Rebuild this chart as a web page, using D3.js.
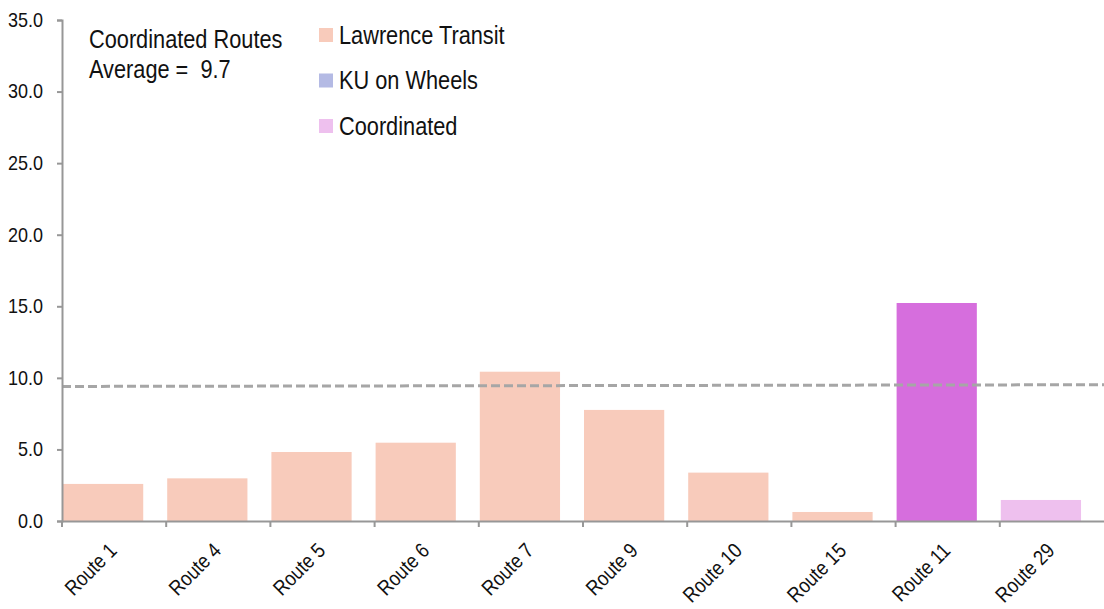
<!DOCTYPE html>
<html><head><meta charset="utf-8">
<script src="https://cdn.jsdelivr.net/npm/d3@7"></script>
<style>
html,body{margin:0;padding:0;background:#fff;}
svg{display:block;font-family:"Liberation Sans Narrow","Arial Narrow","Liberation Sans",Arial,sans-serif;}
</style></head>
<body><svg id="chart" width="1104" height="609"></svg>
<script>
const categories = ["Route 1","Route 4","Route 5","Route 6","Route 7","Route 9","Route 10","Route 15","Route 11","Route 29"];
const values = [2.59, 2.98, 4.82, 5.47, 10.43, 7.76, 3.38, 0.63, 15.23, 1.47];
const barGroups = ["Lawrence Transit","Lawrence Transit","Lawrence Transit","Lawrence Transit","Lawrence Transit","Lawrence Transit","Lawrence Transit","Lawrence Transit","Route 11","Coordinated"];
const legendLabels = ["Lawrence Transit","KU on Wheels","Coordinated"];
const legendColors = ["#F8CBBB","#B4BAE4","#EEC0EE"];
const yTicks = [0,5,10,15,20,25,30,35];
const avgLineValues = [9.4, 9.52];
const annotationLines = ["Coordinated Routes","Average =  9.7"];

const colorMap = {"Lawrence Transit":"#F8CBBB","KU on Wheels":"#B4BAE4","Coordinated":"#EEC0EE","Route 11":"#D66EDD"};

const svg = d3.select("#chart");
const W = 1104, H = 609;
const m = {left:62, right:0, top:20, bottom:88};
const x = d3.scaleBand().domain(categories).range([m.left, W - m.right]).paddingInner(0).paddingOuter(0);
const y = d3.scaleLinear().domain([0,35]).range([H - m.bottom, m.top]);
const axisColor = "#979797";
const textColor = "#111";
const SX = 0.87;

// bars (left-aligned in band)
svg.append("g").selectAll("rect").data(categories).join("rect")
  .attr("x", d => x(d) + 1)
  .attr("width", x.bandwidth() * 0.77)
  .attr("y", (d,i) => y(values[i]))
  .attr("height", (d,i) => y(0) - y(values[i]))
  .attr("fill", (d,i) => colorMap[barGroups[i]]);

// average dashed line
const lx = d3.scaleLinear().domain([0,1]).range([m.left, W - m.right]);
svg.append("path")
  .attr("d", d3.line().x((d,i) => lx(i)).y(d => y(d))(avgLineValues))
  .attr("fill","none").attr("stroke","#A6A6A6").attr("stroke-width",3)
  .attr("stroke-dasharray","9,4");

// y axis
const yAxis = svg.append("g").attr("transform",`translate(${m.left},0)`)
  .call(d3.axisLeft(y).tickValues(yTicks).tickFormat(d3.format(".1f")).tickSize(5).tickPadding(14));
yAxis.select(".domain").attr("stroke",axisColor).attr("stroke-width",2);
yAxis.selectAll(".tick line").attr("stroke",axisColor).attr("stroke-width",2);
yAxis.selectAll(".tick text")
  .attr("font-size",20).attr("fill",textColor).attr("font-family",null)
  .attr("x", -19 / 0.9).attr("transform","scale(0.9,1)");

// x axis
const xAxis = svg.append("g").attr("transform",`translate(0,${y(0)})`)
  .call(d3.axisBottom(x).tickSize(0).tickFormat(""));
xAxis.select(".domain").attr("stroke",axisColor).attr("stroke-width",2);
// boundary ticks
svg.append("g").selectAll("line").data(categories).join("line")
  .attr("x1", d => x(d)).attr("x2", d => x(d))
  .attr("y1", y(0)).attr("y2", y(0) + 6)
  .attr("stroke",axisColor).attr("stroke-width",2);
// labels
svg.append("g").selectAll("text").data(categories).join("text")
  .attr("transform", d => `translate(${x(d) + x.bandwidth()/2 + 4},${y(0) + 31}) rotate(-45) scale(0.86,1)`)
  .attr("text-anchor","end")
  .attr("font-size",21).attr("fill",textColor)
  .text(d => d);

// annotation
svg.append("g").selectAll("text").data(annotationLines).join("text")
  .attr("transform",(d,i) => `translate(89,${48.3 + i*30}) scale(${SX},1)`)
  .attr("font-size",25).attr("fill",textColor)
  .attr("xml:space","preserve").style("white-space","pre")
  .text(d => d);

// legend
const lg = svg.append("g").selectAll("g").data(legendLabels).join("g")
  .attr("transform",(d,i) => `translate(319,${35 + i*45.5})`);
lg.append("rect").attr("x",0).attr("y",-7).attr("width",14).attr("height",14)
  .attr("fill",(d,i) => legendColors[i]);
lg.append("text").attr("transform",`translate(20,8.5) scale(${SX},1)`)
  .attr("font-size",25).attr("fill",textColor).text(d => d);
</script></body></html>
